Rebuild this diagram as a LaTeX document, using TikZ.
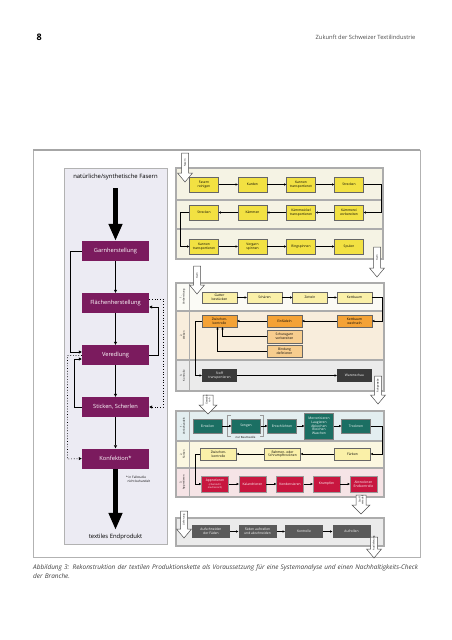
\documentclass[tikz,border=0pt]{standalone}
\usepackage{fontspec}
\setmainfont{Open Sans}
\usetikzlibrary{arrows.meta,calc}
\definecolor{purp}{HTML}{7B1B5E}
\definecolor{lav}{HTML}{ECEBF3}
\definecolor{spbg}{HTML}{F5F3E4}
\definecolor{spyel}{HTML}{F2E142}
\definecolor{paleyel}{HTML}{FAF0A8}
\definecolor{wvbg}{HTML}{FBFBF6}
\definecolor{orbg}{HTML}{F8EDDC}
\definecolor{orbox}{HTML}{F4A236}
\definecolor{lorbox}{HTML}{F7CD8E}
\definecolor{graybg}{HTML}{EBEBEB}
\definecolor{dkbox}{HTML}{3A3A3A}
\definecolor{blbg}{HTML}{E3EEF0}
\definecolor{teal}{HTML}{1B6F63}
\definecolor{ylbg}{HTML}{FBF7E1}
\definecolor{pkbg}{HTML}{F6E4E6}
\definecolor{crim}{HTML}{C8163F}
\definecolor{midbox}{HTML}{5A5A5A}
\newcommand{\hollowarr}[5]{%
  \draw[holl] ({#1-#4},#2) -- ({#1+#4},#2) -- ({#1+#4},{#3-9}) -- ({#1+#4+4},{#3-9}) -- (#1,#3) -- ({#1-#4-4},{#3-9}) -- ({#1-#4},{#3-9}) -- cycle;
  \node[holtext] at (#1,{(#2+#3-9)/2}) {#5};}
\begin{document}
\begin{tikzpicture}[x=1pt,y=-1pt,
  sm/.style={font=\fontsize{3.3}{3.7}\selectfont, align=center, inner sep=0, minimum height=15, draw=black!60, line width=0.3pt},
  ybox/.style={sm, fill=spyel, minimum width=29},
  pybox/.style={sm, fill=paleyel, minimum width=35, minimum height=11.5},
  obox/.style={sm, fill=orbox, minimum width=35, minimum height=12},
  lobox/.style={sm, fill=lorbox, minimum width=35, minimum height=12.5},
  dbox/.style={sm, fill=dkbox, text=white, minimum width=35, minimum height=13, draw=none},
  tbox/.style={sm, fill=teal, text=white, minimum width=29, minimum height=14, draw=black!50},
  vybox/.style={sm, fill=paleyel, minimum width=36, minimum height=12},
  cbox/.style={sm, fill=crim, text=white, minimum width=27, minimum height=16, draw=black!40},
  gbox/.style={sm, fill=midbox, text=white, minimum width=38, minimum height=13, draw=none},
  mbox/.style={fill=purp, text=white, font=\fontsize{5.7}{6}\selectfont, minimum width=67, minimum height=20, inner sep=0},
  arr/.style={-{Triangle[length=2.3pt,width=2.1pt]}, line width=0.45pt},
  marr/.style={-{Triangle[length=3pt,width=3pt]}, line width=0.7pt},
  darr/.style={-{Triangle[length=3pt,width=3pt]}, line width=0.7pt, dotted},
  bigarr/.style={-{Triangle[length=17pt,width=13pt]}, line width=4.5pt},
  frame/.style={draw=gray!65, line width=1.1pt},
  lab/.style={font=\fontsize{2.6}{3}\selectfont, align=center, rotate=90, inner sep=0},
  holl/.style={draw=black!70, fill=white, line width=0.5pt},
  holtext/.style={font=\fontsize{2.5}{2.8}\selectfont, align=center, rotate=90, inner sep=0}]
\useasboundingbox (0,0) rectangle (452,640);
\fill[white] (0,0) rectangle (452,640);
% header
\node[anchor=base west, font=\bfseries\fontsize{9}{9}\selectfont] (pnum) at (33,40) {8};
\node[anchor=base east, font=\fontsize{5.8}{6}\selectfont, text=black!70] (head) at (419,39) {Zukunft der Schweizer Textilindustrie};
% outer frame
\draw[draw=gray!60, line width=0.6pt] (33,150) rectangle (420,557);
\draw[draw=gray!70, line width=1.6pt] (33,150) -- (420,150);
% left panel
\draw[fill=lav, draw=gray!60, line width=0.6pt] (64,168) rectangle (167,544);
\node[font=\fontsize{5.9}{6}\selectfont, inner sep=1] (nat) at (115.5,177) {natürliche/synthetische Fasern};
\node[mbox] (G) at (115.5,251) {Garnherstellung};
\node[mbox] (F) at (115.5,303) {Flächenherstellung};
\node[mbox] (V) at (115.5,355) {Veredlung};
\node[mbox] (S) at (115.5,407) {Sticken, Scherlen};
\node[mbox] (K) at (115.5,458.5) {Konfektion*};
\node[font=\fontsize{3.1}{3.6}\selectfont, align=left, anchor=north west, inner sep=0] (note) at (126,476) {* in Fallstudie\\\ \,nicht behandelt};
\node[font=\fontsize{5.9}{6}\selectfont, inner sep=1] (endp) at (115.5,537) {textiles Endprodukt};
\draw[bigarr] ($(nat.south)+(0,7)$) -- (G.north);
\draw[bigarr] (K.south) -- ($(endp.north)+(0,-3)$);
\draw[marr] (G.south) -- (F.north);
\draw[marr] (F.south) -- (V.north);
\draw[marr] (V.south) -- (S.north);
\draw[marr] (S.south) -- (K.north);
\draw[marr] (G.west) -- (70,251) -- (70,352) -- ($(V.west)+(0,-3)$);
\draw[marr] (S.west) -- (74,407) -- (74,359) -- ($(V.west)+(0,4)$);
\draw[darr] ($(V.west)+(0,0.5)$) -- (67.5,355.5) -- (67.5,459) -- (K.west);
\draw[marr] (V.east) -- (158,355) -- (158,307) -- ($(F.east)+(0,4)$);
\draw[darr] ($(F.east)+(0,-4)$) -- (163,299) -- (163,407) -- (S.east);
% ===== spinning
\draw[frame, fill=spbg] (176,168) rectangle (383,200);
\draw[frame, fill=spbg] (176,200) rectangle (383,229);
\draw[frame, fill=spbg] (176,229) rectangle (383,259);
\node[ybox] (s11) at (204,184.5) {Fasern\\reinigen};
\node[ybox] (s12) at (252.5,184.5) {Karden};
\node[ybox] (s13) at (301,184.5) {Kannen\\transportieren};
\node[ybox] (s14) at (349,184.5) {Strecken};
\node[ybox] (s21) at (204,212.5) {Strecken};
\node[ybox] (s22) at (252.5,212.5) {Kämmen};
\node[ybox] (s23) at (301,212.5) {Kämmwickel\\transportieren};
\node[ybox] (s24) at (349,212.5) {Kämmerei\\vorbereiten};
\node[ybox] (s31) at (204,246.5) {Kannen\\transportieren};
\node[ybox] (s32) at (252.5,246.5) {Vorgarn\\spinnen};
\node[ybox] (s33) at (301,246.5) {Ringspinnen};
\node[ybox] (s34) at (349,246.5) {Spulen};
\draw[arr] (s11) -- (s12); \draw[arr] (s12) -- (s13); \draw[arr] (s13) -- (s14);
\draw[arr] (s24) -- (s23); \draw[arr] (s23) -- (s22); \draw[arr] (s22) -- (s21);
\draw[arr] (s31) -- (s32); \draw[arr] (s32) -- (s33); \draw[arr] (s33) -- (s34);
\draw[arr] (s14.east) -- (381,184.5) -- (381,212.5) -- (s24.east);
\draw[arr] (s21.west) -- (180,212.5) -- (180,246.5) -- (s31.west);
% ===== weaving
\draw[frame, fill=wvbg] (176,283) rectangle (384,311);
\draw[frame, fill=orbg] (176,311) rectangle (384,360);
\draw[frame, fill=graybg] (176,360) rectangle (384,391);
\draw[draw=gray!65, line width=0.8pt] (189,283) -- (189,391);
\node[lab] (wl1) at (182.5,297) {1.\\Vorbereitung};
\node[lab] (wl2) at (182.5,335.5) {2.\\Weben};
\node[lab] (wl3) at (182.5,375.5) {3.\\Kontrolle};
\node[pybox] (w11) at (219.5,297.5) {Gatter\\bestücken};
\node[pybox] (w12) at (264.5,297.5) {Schären};
\node[pybox] (w13) at (310,297.5) {Zetteln};
\node[pybox] (w14) at (354.5,297.5) {Kettbaum};
\node[obox] (w21) at (219.5,321) {Zwischen-\\kontrolle};
\node[obox] (w22) at (284.5,321) {Einfädeln};
\node[obox] (w23) at (354.5,321) {Kettbaum\\wechseln};
\node[lobox] (w24) at (284.5,336.5) {Schussgarn\\vorbereiten};
\node[lobox] (w25) at (284.5,351) {Bindung\\definieren};
\node[dbox] (w31) at (219.5,375.5) {Stoff\\transportieren};
\node[dbox] (w32) at (354.5,375.5) {Warenschau};
\draw[arr] (w11) -- (w12); \draw[arr] (w12) -- (w13); \draw[arr] (w13) -- (w14);
\draw[arr] (w14.east) -- (382,297.5) -- (382,321) -- (w23.east);
\draw[arr] (w23) -- (w22); \draw[arr] (w22) -- (w21);
\draw[arr] (w24.west) -- (222.5,336.5) -- (222.5,327);
\draw[arr] (w25.west) -- (217.5,351) -- (217.5,327);
\draw[arr] (w21.west) -- (195,321) -- (195,375.5) -- (w31.west);
\draw[arr] (w31) -- (w32);
% ===== finishing
\draw[frame, fill=blbg] (176,411) rectangle (384,441);
\draw[frame, fill=ylbg] (176,441) rectangle (384,468);
\draw[frame, fill=pkbg] (176,468) rectangle (384,497);
\draw[draw=gray!65, line width=0.8pt] (189,411) -- (189,497);
\node[lab] (vl1) at (182.5,426) {1.\\Vorbehandeln};
\node[lab] (vl2) at (182.5,454.5) {2.\\Färben};
\node[lab] (vl3) at (182.5,482.5) {3.\\Appretieren};
\node[tbox] (v11) at (207.5,426) {Einteilen};
\node[tbox] (v12) at (246,426) {Sengen};
\node[tbox] (v13) at (282,426) {Entschlichten};
\node[tbox, minimum height=26] (v14) at (319,426) {Mercerisieren\\Laugieren\\Abkochen\\Bleichen\\Waschen};
\node[tbox] (v15) at (356,426) {Trocknen};
\draw[draw=gray!80, line width=0.6pt] (231,415) -- (227.5,415) -- (227.5,436.5) -- (231,436.5);
\draw[draw=gray!80, line width=0.6pt] (260,415) -- (263.5,415) -- (263.5,436.5) -- (260,436.5);
\node[font=\fontsize{2.8}{3}\selectfont, inner sep=0.3, fill=blbg] (nurbw) at (245.5,437) {nur Baumwolle};
\node[vybox] (v21) at (218.5,454) {Zwischen-\\kontrolle};
\node[vybox] (v22) at (282.5,454) {Rahmen- oder\\Schrumpftrocknen};
\node[vybox] (v23) at (352.5,454) {Färben};
\node[cbox] (v31) at (215,484) {Appretieren\\{\fontsize{2.4}{2.7}\selectfont (chemisch/}\\{\fontsize{2.4}{2.7}\selectfont mechanisch)}};
\node[cbox] (v32) at (252.5,484) {Kalandrieren};
\node[cbox] (v33) at (290,484) {Kondensieren};
\node[cbox] (v34) at (326.5,484) {Krumpfen};
\node[cbox] (v35) at (363.5,484) {Abtrocknen\\Endkontrolle};
\draw[arr] (v11) -- (v12); \draw[arr] (v12) -- (v13); \draw[arr] (v13) -- (v14); \draw[arr] (v14) -- (v15);
\draw[arr] (v15.east) -- (382,426) -- (382,454) -- (v23.east);
\draw[arr] (v23) -- (v22); \draw[arr] (v22) -- (v21);
\draw[arr] (v21.west) -- (195,454) -- (195,484) -- (v31.west);
\draw[arr] (v31) -- (v32); \draw[arr] (v32) -- (v33); \draw[arr] (v33) -- (v34); \draw[arr] (v34) -- (v35);
% ===== final
\draw[frame, fill=graybg] (176,518) rectangle (384,546);
\node[gbox] (f1) at (211,531.5) {Aufschneiden\\der Fäden};
\node[gbox] (f2) at (257.5,531.5) {Fäden aufstellen\\und abschneiden};
\node[gbox] (f3) at (304,531.5) {Kontrolle};
\node[gbox] (f4) at (351.5,531.5) {Aufrollen};
\draw[arr] (f1) -- (f2); \draw[arr] (f2) -- (f3); \draw[arr] (f3) -- (f4);
% hollow arrows
\hollowarr{185}{153}{182}{3.5}{Fasern}
\hollowarr{377}{247}{277}{3.5}{Garn}
\hollowarr{197}{266}{294}{3.5}{Garn}
\hollowarr{378}{376}{404}{3.5}{Rohgewebe}
\hollowarr{208}{395}{414}{5}{Gewebe\\roh}
\hollowarr{361}{495}{514}{5}{Stoff\\veredelt}
\hollowarr{184}{511}{538}{3.5}{Lieferung}
\hollowarr{374}{537}{558}{3.5}{Auslieferung}
% caption
\node[anchor=north west, text width=388, align=left, inner sep=0, font=\itshape\fontsize{6.45}{8.5}\selectfont, text=black!75] (cap) at (33,564.5) {Abbildung 3: Rekonstruktion der textilen Produktionskette als Voraussetzung für eine Systemanalyse und einen Nachhaltigkeits-Check der Branche.};
\end{tikzpicture}
\end{document}
